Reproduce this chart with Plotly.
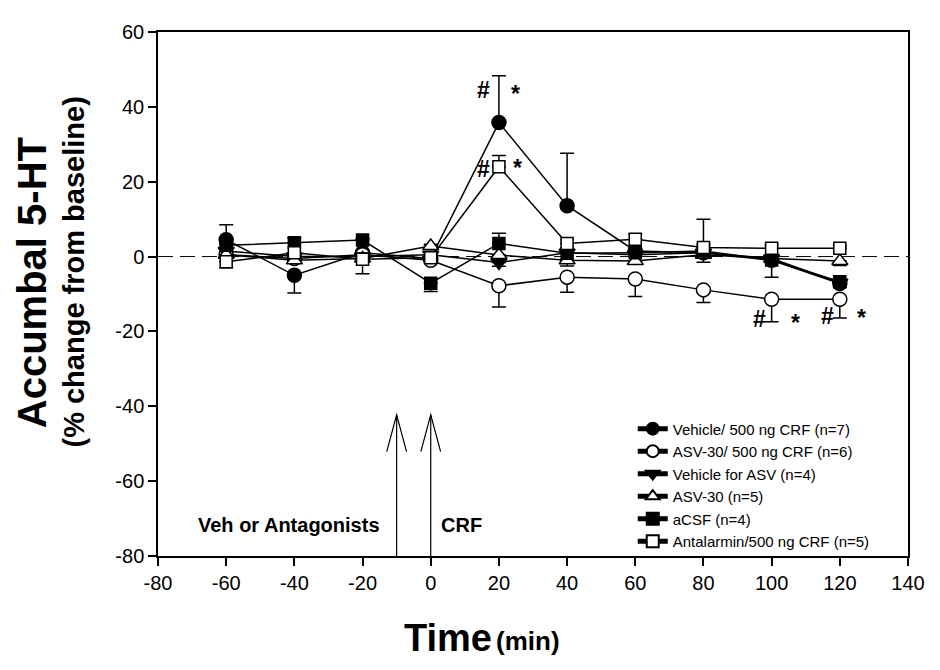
import plotly.graph_objects as go

# ---------------- data ----------------
time_min = [-60, -40, -20, 0, 20, 40, 60, 80, 100, 120]

veh_crf = [4.5, -5.0, 1.0, -0.5, 35.8, 13.6, 1.5, 1.0, -1.0, -7.2]
veh_crf_up = [4.0, 0, 0, 0, 12.5, 14.0, 0, 9.0, 0, 0]
veh_crf_dn = [0, 4.7, 0, 0, 0, 0, 0, 0, 0, 0]

asv_crf = [0.5, -0.5, 0.5, -1.0, -7.8, -5.5, -6.0, -8.9, -11.4, -11.4]
asv_crf_up = [0, 0, 0, 0, 0, 0, 0, 0, 0, 0]
asv_crf_dn = [0, 0, 0, 0, 5.7, 4.0, 4.7, 3.4, 6.0, 5.0]

veh_asv = [1.5, 0.0, 0.0, 0.5, -1.6, 1.0, 0.5, 1.0, -0.5, -7.0]
veh_asv_up = [0, 0, 0, 0, 0, 0, 0, 0, 0, 0]
veh_asv_dn = [0, 0, 0, 0, 1.0, 0, 0, 0, 0, 0]

asv30 = [0.5, -1.0, -0.5, 2.8, 0.4, -1.0, -1.2, 0.5, -0.5, -1.2]
asv30_up = [0, 0, 0, 0.5, 0, 0, 0, 0, 0, 0]
asv30_dn = [0, 0, 0, 0, 0, 1.5, 0, 0, 0, 1.2]

acsf = [3.0, 3.7, 4.4, -7.1, 3.5, 0.9, 1.0, 1.5, -0.9, -6.7]
acsf_up = [0, 1.3, 0.5, 0, 2.7, 0, 0, 0, 0, 0]
acsf_dn = [0, 0, 0, 2.2, 0, 0, 0, 3.0, 4.6, 1.5]

antal = [-1.4, 1.0, -0.7, -0.3, 24.0, 3.5, 4.6, 2.4, 2.2, 2.2]
antal_up = [0, 0, 0, 0, 3.0, 1.0, 1.4, 1.0, 0.8, 0.8]
antal_dn = [1.6, 0, 3.9, 1.0, 0, 0, 0, 0, 0, 0]

names = ["Vehicle/ 500 ng CRF (n=7)", "ASV-30/ 500 ng CRF (n=6)",
         "Vehicle for ASV (n=4)", "ASV-30 (n=5)", "aCSF (n=4)",
         "Antalarmin/500 ng CRF (n=5)"]

x_ticks = [-80, -60, -40, -20, 0, 20, 40, 60, 80, 100, 120, 140]
x_ticklabels = ["-80", "-60", "-40", "-20", "0", "20", "40", "60", "80", "100", "120", "140"]
y_ticks = [-80, -60, -40, -20, 0, 20, 40, 60]
y_ticklabels = ["-80", "-60", "-40", "-20", "0", "20", "40", "60"]

# injection arrows (time, min) and labels
arrow_times = [-10, 0]
arrow_tip, arrow_base = -42.3, -80
# significance marks: (x, y, text)
sig_marks = [(15.5, 44.5, "#"), (25.0, 43.5, "*"),
             (15.5, 23.4, "#"), (25.5, 23.6, "*"),
             (96.5, -16.8, "#"), (107.0, -17.8, "*"),
             (116.5, -15.9, "#"), (126.5, -16.4, "*")]

FONT = "Arial, Liberation Sans, sans-serif"

series = [
    (veh_crf, veh_crf_up, veh_crf_dn, "circle", "black", 14),
    (asv_crf, asv_crf_up, asv_crf_dn, "circle", "white", 14),
    (veh_asv, veh_asv_up, veh_asv_dn, "triangle-down", "black", 14),
    (asv30, asv30_up, asv30_dn, "triangle-up", "white", 14),
    (acsf, acsf_up, acsf_dn, "square", "black", 12),
    (antal, antal_up, antal_dn, "square", "white", 12),
]

fig = go.Figure()
for (vals, up, dn, sym, fill, size), nm in zip(series, names):
    fig.add_trace(go.Scatter(
        x=time_min, y=vals, name=nm, mode="lines+markers", showlegend=False,
        line=dict(color="black", width=1.5),
        marker=dict(symbol=sym, size=size, color=fill,
                    line=dict(color="black", width=1.5)),
        error_y=dict(type="data", symmetric=False, array=up, arrayminus=dn,
                     color="black", thickness=1.5, width=7),
    ))
# legend entries (no error bars, so legend lines stay thin)
for (vals, up, dn, sym, fill, size), nm in zip(series, names):
    fig.add_trace(go.Scatter(
        x=[None], y=[None], name=nm, mode="lines+markers",
        line=dict(color="black", width=1.5),
        marker=dict(symbol=sym, size=13, color=fill,
                    line=dict(color="black", width=1.5)),
    ))

shapes = [dict(type="line", xref="paper", yref="y", x0=0, x1=1, y0=0, y1=0,
               line=dict(color="black", width=1, dash="15px,7px"), layer="below")]
for t in arrow_times:
    shapes.append(dict(type="line", x0=t, x1=t, y0=arrow_base, y1=arrow_tip,
                       line=dict(color="black", width=1.2)))
    shapes.append(dict(type="path",
                       path=f"M {t-2.9},{arrow_tip-9.8} L {t},{arrow_tip} L {t+2.9},{arrow_tip-9.8}",
                       line=dict(color="black", width=1.2)))

annotations = []
for (sx, sy, st) in sig_marks:
    annotations.append(dict(x=sx, y=sy, text=f"<b>{st}</b>", showarrow=False,
                            xanchor="center", yanchor="middle",
                            font=dict(family=FONT, size=23, color="black")))
annotations += [
    dict(x=-41.6, y=-71.7, text="<b>Veh or Antagonists</b>", showarrow=False,
         xanchor="center", yanchor="middle",
         font=dict(family=FONT, size=20, color="black")),
    dict(x=9.0, y=-71.7, text="<b>CRF</b>", showarrow=False,
         xanchor="center", yanchor="middle",
         font=dict(family=FONT, size=20, color="black")),
    dict(xref="paper", yref="paper", x=-0.167, y=0.522, text="<b>Accumbal 5-HT</b>",
         textangle=-90, showarrow=False, xanchor="center", yanchor="middle",
         font=dict(family=FONT, size=40, color="black")),
    dict(xref="paper", yref="paper", x=-0.112, y=0.541, text="<b>(% change from baseline)</b>",
         textangle=-90, showarrow=False, xanchor="center", yanchor="middle",
         font=dict(family=FONT, size=29, color="black")),
    dict(xref="paper", yref="paper", x=0.387, y=-0.157, text="<b>Time</b>",
         showarrow=False, xanchor="center", yanchor="middle",
         font=dict(family=FONT, size=38, color="black")),
    dict(xref="paper", yref="paper", x=0.493, y=-0.162, text="<b>(min)</b>",
         showarrow=False, xanchor="center", yanchor="middle",
         font=dict(family=FONT, size=26, color="black")),
]

axis_common = dict(showline=True, linecolor="black", linewidth=1.5, mirror=True,
                   ticks="outside", ticklen=8, tickwidth=1.5, tickcolor="black",
                   showgrid=False, zeroline=False,
                   tickfont=dict(family=FONT, size=20, color="black"))

fig.update_layout(
    width=940, height=670,
    margin=dict(l=150, r=40, t=24, b=122),
    paper_bgcolor="white", plot_bgcolor="white",
    xaxis=dict(range=[-80, 140], tickvals=x_ticks, ticktext=x_ticklabels, **axis_common),
    yaxis=dict(range=[-80, 60], tickvals=y_ticks, ticktext=y_ticklabels, **axis_common),
    shapes=shapes, annotations=annotations,
    legend=dict(x=0.633, y=0.274, xanchor="left", yanchor="top",
                bgcolor="rgba(0,0,0,0)", font=dict(family=FONT, size=15, color="black"),
                itemsizing="constant", tracegroupgap=0),
    showlegend=True,
)

fig.write_html("out.html")
